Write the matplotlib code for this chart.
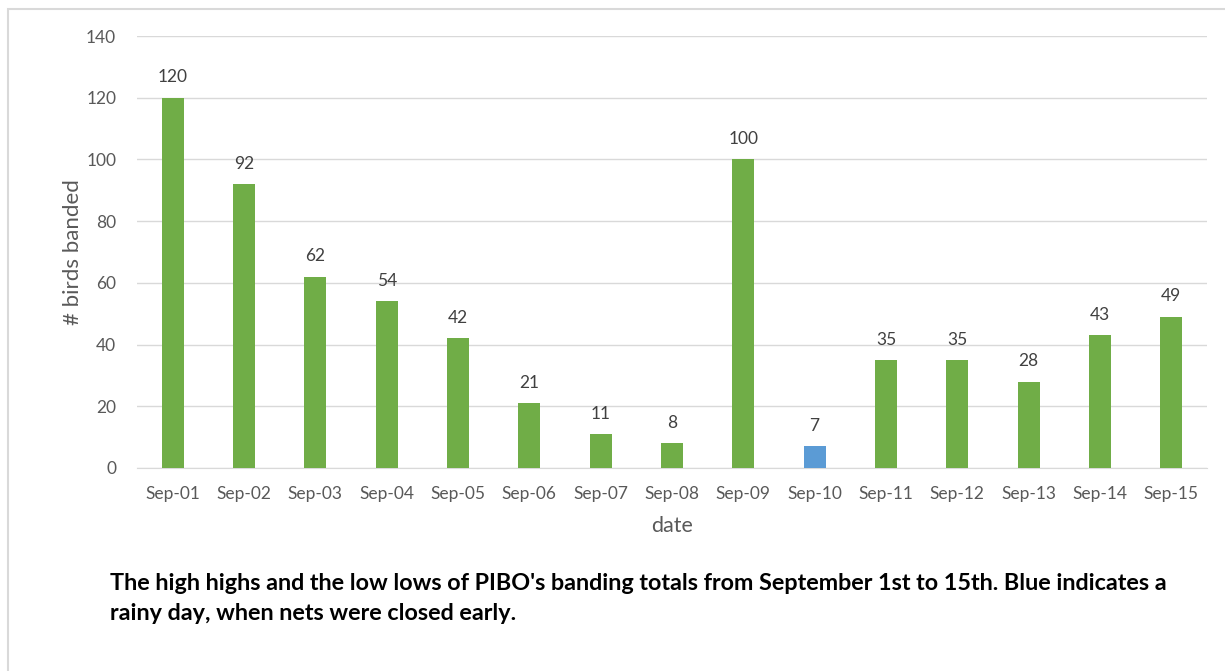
import matplotlib
matplotlib.use('Agg')
import matplotlib.pyplot as plt
from matplotlib.patches import Rectangle
import numpy as np

plt.rcParams['font.family'] = ['Lato', 'DejaVu Sans']

dates = ['Sep-01', 'Sep-02', 'Sep-03', 'Sep-04', 'Sep-05', 'Sep-06', 'Sep-07', 'Sep-08',
         'Sep-09', 'Sep-10', 'Sep-11', 'Sep-12', 'Sep-13', 'Sep-14', 'Sep-15']
birds = [120, 92, 62, 54, 42, 21, 11, 8, 100, 7, 35, 35, 28, 43, 49]
rainy = ['Sep-10']

green = '#70AD47'
blue = '#5B9BD5'
colors = [blue if d in rainy else green for d in dates]

fig = plt.figure(figsize=(12.25, 6.71), dpi=100)
ax = fig.add_axes([137/1225, 1-468/671, 1070/1225, 432/671])

x = np.arange(len(dates))
ax.bar(x, birds, width=0.31, color=colors, zorder=3)
for xi, v in zip(x, birds):
    ax.text(xi, v + 4, str(v), ha='center', va='bottom', fontsize=12.5, color='#404040')

ax.set_xlim(-0.5, len(dates) - 0.5)
ax.set_ylim(0, 140)
ax.set_yticks(range(0, 141, 20))
ax.set_xticks(x)
ax.set_xticklabels(dates)
ax.grid(axis='y', color='#D9D9D9', linewidth=1, zorder=0)
for s in ['top', 'right', 'left']:
    ax.spines[s].set_visible(False)
ax.spines['bottom'].set_color('#D9D9D9')
ax.tick_params(axis='both', length=0, labelsize=12.5, colors='#595959')
ax.tick_params(axis='x', pad=13)
ax.tick_params(axis='y', pad=15)
ax.set_xlabel('date', fontsize=15.5, color='#595959', labelpad=10)
ax.set_ylabel('# birds banded', fontsize=16, color='#595959', labelpad=2)

# outer chart border
fig.patches.append(Rectangle((8/1225, -0.1), 1.2, 1 - 9/671 + 0.1, transform=fig.transFigure,
                             fill=False, edgecolor='#D9D9D9', linewidth=1.5))

fig.text(110/1225, 1-583/671, "The high highs and the low lows of PIBO's banding totals from September 1st to 15th. Blue indicates a",
         fontsize=16.8, fontweight='bold', color='black', va='center')
fig.text(110/1225, 1-613/671, "rainy day, when nets were closed early.",
         fontsize=16.8, fontweight='bold', color='black', va='center')

fig.savefig('out.png', dpi=100)
